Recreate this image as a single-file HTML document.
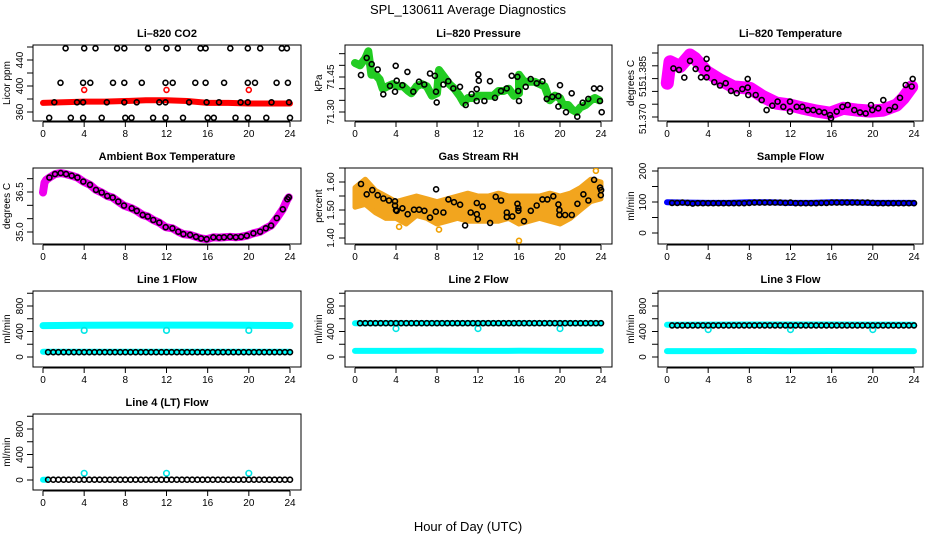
<!DOCTYPE html>
<html><head><meta charset="utf-8">
<style>
html,body{margin:0;padding:0;background:#fff;}
svg{display:block;font-family:"Liberation Sans",Arial,sans-serif;}
</style></head>
<body>
<svg id="chart" width="936" height="540" viewBox="0 0 936 540" xmlns="http://www.w3.org/2000/svg">
<rect x="0" y="0" width="936" height="540" fill="#fff"/>
<text x="468" y="14" text-anchor="middle" font-size="13">SPL_130611  Average Diagnostics</text>
<text x="468" y="531" text-anchor="middle" font-size="13">Hour of Day (UTC)</text>
</svg>
<script>
// ---- X axis ----
const X_TICKS = [0, 4, 8, 12, 16, 20, 24];

// ---- CO2 ----
const CO2_TOP_H = [2.2,4.0,5.1,7.2,7.9,10.2,12.0,13.1,15.3,15.8,18.2,19.9,21.1,23.2,23.7];
const CO2_TOP_V = [458,458,458,458,458,458,458,458,458,458,458,458,458,458,458];
const CO2_MID_H = [1.7,3.9,4.6,6.8,7.9,9.6,11.9,12.6,14.8,15.8,17.6,19.9,20.6,22.7,23.8];
const CO2_MID_V = [405,405,405,405,405,405,405,405,405,405,405,405,405,405,405];
const CO2_LOW_H = [1.1,3.3,3.9,6.2,7.9,9.1,11.3,11.9,14.2,15.9,17.1,19.2,19.9,22.2,23.9];
const CO2_LOW_V = [375,375,375,375,375,375,375,375,375,375,375,375,375,375,375];
const CO2_BOT_H = [0.6,2.7,3.9,5.7,8.0,8.6,10.7,11.9,13.6,16.0,16.6,18.7,19.9,21.7,24.0];
const CO2_BOT_V = [351,351,351,351,351,351,351,351,351,351,351,351,351,351,351];
const CO2_RED_H = [0,2,4,6,8,10,12,14,16,18,20,22,24];
const CO2_RED_V = [374,375,376,376,377,378,378,377,374,374,373,373,373];
const CO2_REDOUT_H = [4,12,20];
const CO2_REDOUT_V = [394,394,394];

// ---- Pressure ----
const P_BLK_H = [1.14,0.59,1.63,2.21,2.76,3.41,4.07,3.97,3.90,4.62,5.11,5.69,6.24,6.76,7.32,7.80,7.90,7.97,8.62,9.10,9.59,10.24,10.80,11.38,11.87,11.87,12.03,12.08,12.62,13.17,13.66,14.24,14.80,15.29,15.84,15.93,16.00,16.65,17.14,17.73,18.28,18.70,19.25,19.84,20.00,19.84,20.59,21.14,21.69,22.21,22.76,23.32,23.90,23.90,24.07];
const P_BLK_V = [71.532,71.458,71.505,71.482,71.376,71.412,71.434,71.498,71.387,71.415,71.472,71.387,71.430,71.418,71.465,71.455,71.387,71.341,71.418,71.432,71.401,71.408,71.330,71.377,71.398,71.347,71.461,71.434,71.347,71.432,71.361,71.390,71.401,71.455,71.451,71.390,71.347,71.408,71.441,71.423,71.432,71.356,71.365,71.368,71.415,71.323,71.299,71.380,71.280,71.340,71.356,71.401,71.401,71.347,71.299];
const P_GRN_H = [0.0,0.5,1.0,1.3,1.6,2.0,2.4,2.7,3.2,3.7,4.2,4.7,5.2,5.5,6.0,6.5,7.0,7.5,8.0,8.2,8.7,9.2,9.7,10.2,10.6,11.0,11.5,12.0,12.5,13.0,13.5,14.0,14.5,15.0,15.5,16.0,16.0,16.5,17.0,17.5,18.0,18.5,19.0,19.5,20.0,20.3,20.8,21.2,21.6,22.0,22.5,23.0,23.4,23.8];
const P_GRN_V = [71.51,71.50,71.53,71.56,71.46,71.46,71.44,71.40,71.41,71.42,71.41,71.41,71.39,71.38,71.41,71.42,71.41,71.37,71.38,71.48,71.45,71.42,71.40,71.37,71.34,71.36,71.36,71.37,71.37,71.37,71.37,71.39,71.39,71.40,71.37,71.38,71.46,71.43,71.43,71.43,71.42,71.41,71.35,71.37,71.36,71.33,71.33,71.31,71.30,71.32,71.33,71.35,71.36,71.35];

// ---- Li-820 Temperature ----
const T_MAG_H = [0.03,0.29,1.26,2.23,2.72,3.86,5.15,6.45,8.07,9.36,10.66,11.95,13.24,14.55,15.84,17.13,18.43,19.73,21.02,22.32,22.96,23.78];
const T_MAG_V = [51.3782,51.3866,51.3847,51.3892,51.3879,51.3827,51.3795,51.3768,51.3762,51.3729,51.3704,51.3697,51.3684,51.3673,51.3665,51.3684,51.3677,51.3673,51.3677,51.3697,51.3723,51.3768];
const T_BLK_H = [0.62,1.17,1.68,2.23,2.78,3.30,3.85,3.92,3.85,4.60,5.15,5.70,6.22,6.77,7.32,7.84,7.84,7.90,8.62,9.20,9.68,10.23,10.75,11.30,11.95,11.95,12.60,13.15,13.67,14.22,14.77,15.29,15.84,15.94,16.49,17.04,17.56,18.20,18.75,19.31,19.82,19.95,20.53,21.02,21.60,22.15,22.64,23.19,23.78,23.87];
const T_BLK_V = [51.3840,51.3834,51.3804,51.3869,51.3838,51.3805,51.3805,51.3840,51.3877,51.3786,51.3773,51.3782,51.3752,51.3743,51.3759,51.3799,51.3765,51.3736,51.3736,51.3716,51.3677,51.3694,51.3710,51.3690,51.3710,51.3671,51.3690,51.3690,51.3677,51.3677,51.3671,51.3668,51.3658,51.3645,51.3671,51.3690,51.3697,51.3677,51.3668,51.3664,51.3697,51.3677,51.3684,51.3716,51.3677,51.3690,51.3725,51.3775,51.3769,51.3799];

// ---- Ambient Box Temperature ----
const A_BLK_H = [0.62,1.17,1.72,2.24,2.79,3.34,3.92,4.57,5.15,5.70,6.25,6.77,7.32,7.87,8.62,9.11,9.69,10.18,10.72,11.30,11.92,12.57,13.15,13.64,14.29,14.87,15.36,15.91,16.55,17.11,17.59,18.18,18.73,19.25,19.80,20.44,21.09,21.65,22.16,22.72,23.30,23.75,23.88];
const A_BLK_V = [37.04,37.17,37.21,37.17,37.11,37.04,36.89,36.77,36.58,36.48,36.35,36.29,36.14,35.99,35.89,35.79,35.64,35.58,35.45,35.35,35.18,35.14,35.01,34.92,34.89,34.82,34.76,34.73,34.80,34.79,34.80,34.82,34.80,34.82,34.86,34.95,35.01,35.14,35.24,35.52,35.85,36.23,36.30];
const A_MAG_H = [0.0,0.15,0.3,0.62,1.17,1.72,2.24,2.79,3.34,3.92,4.57,5.15,5.70,6.25,6.77,7.32,7.87,8.62,9.11,9.69,10.18,10.72,11.30,11.92,12.57,13.15,13.64,14.29,14.87,15.36,15.91,16.55,17.11,17.59,18.18,18.73,19.25,19.80,20.44,21.09,21.65,22.16,22.72,23.30,23.75,23.88];
const A_MAG_V = [36.48,36.85,36.95,37.04,37.17,37.21,37.17,37.11,37.04,36.89,36.77,36.58,36.48,36.35,36.29,36.14,35.99,35.89,35.79,35.64,35.58,35.45,35.35,35.18,35.14,35.01,34.92,34.89,34.82,34.76,34.73,34.80,34.79,34.80,34.82,34.80,34.82,34.86,34.95,35.01,35.14,35.24,35.52,35.85,36.23,36.30];

// ---- Gas Stream RH ----
const RH_BLK_H = [0.59,1.14,1.69,2.21,2.77,3.32,3.90,3.90,4.00,4.07,4.62,5.14,5.76,6.25,6.77,7.32,7.88,7.91,8.62,9.11,9.66,10.25,10.74,11.29,11.88,11.88,11.98,12.46,13.18,13.73,14.25,14.81,14.81,15.35,15.84,15.94,15.94,16.49,17.15,17.73,18.28,18.77,19.35,19.84,19.94,19.94,20.50,21.15,21.70,22.28,22.77,23.33,23.91,24.01,23.98];
const RH_BLK_V = [1.593,1.556,1.571,1.553,1.541,1.534,1.531,1.516,1.500,1.497,1.506,1.485,1.501,1.501,1.497,1.473,1.494,1.574,1.491,1.538,1.528,1.519,1.445,1.491,1.525,1.485,1.467,1.512,1.454,1.547,1.534,1.475,1.491,1.477,1.522,1.497,1.507,1.460,1.497,1.516,1.538,1.538,1.549,1.520,1.500,1.482,1.482,1.482,1.522,1.556,1.534,1.608,1.580,1.571,1.553];
const RH_BAND_H = [0,1,2,3,4,5,6,7,8,9,10,11,12,13,14,15,16,17,18,19,20,21,22,23,24];
const RH_BAND_HI = [1.58,1.61,1.57,1.55,1.53,1.54,1.55,1.54,1.53,1.54,1.55,1.56,1.55,1.55,1.56,1.55,1.55,1.55,1.55,1.56,1.55,1.56,1.58,1.61,1.60];
const RH_BAND_LO = [1.51,1.52,1.49,1.47,1.47,1.45,1.48,1.47,1.45,1.46,1.47,1.46,1.46,1.46,1.46,1.47,1.45,1.46,1.47,1.46,1.45,1.47,1.50,1.53,1.54];
const RH_OUT_H = [16.0,23.5,8.2,4.3];
const RH_OUT_V = [1.39,1.64,1.43,1.44];

// ---- Flow panels ----
const FLOW_H = [0.5,1,1.5,2,2.5,3,3.5,4,4.5,5,5.5,6,6.5,7,7.5,8,8.5,9,9.5,10,10.5,11,11.5,12,12.5,13,13.5,14,14.5,15,15.5,16,16.5,17,17.5,18,18.5,19,19.5,20,20.5,21,21.5,22,22.5,23,23.5,24];
const SAMPLE_BLK = [97,97,98,97,95,96,96,96,96,96,96,96,96,96,96,97,98,98,98,98,98,98,97,98,96,96,96,96,96,97,97,98,98,98,98,98,98,98,98,97,96,96,96,96,96,96,96,96];
const SAMPLE_BAND_H = [0,2,4,6,8,10,12,14,16,18,20,22,24];
const SAMPLE_BAND_V = [99,98,97,97,99,99,97,97,99,99,97,97,97];
const L1_BLK = [75,75,75,75,75,75,75,75,75,75,75,75,75,75,75,75,75,75,75,75,75,75,75,75,75,75,75,75,75,75,75,75,75,75,75,75,75,75,75,75,75,75,75,75,75,75,75,75];
const L2_BLK = [530,530,530,530,530,530,530,530,530,530,530,530,530,530,530,530,530,530,530,530,530,530,530,530,530,530,530,530,530,530,530,530,530,530,530,530,530,530,530,530,530,530,530,530,530,530,530,530];
const L3_BLK = [495,495,495,495,495,495,495,495,495,495,495,495,495,495,495,495,495,495,495,495,495,495,495,495,495,495,495,495,495,495,495,495,495,495,495,495,495,495,495,495,495,495,495,495,495,495,495,495];
const L4_BLK = [5,5,5,5,5,5,5,5,5,5,5,5,5,5,5,5,5,5,5,5,5,5,5,5,5,5,5,5,5,5,5,5,5,5,5,5,5,5,5,5,5,5,5,5,5,5,5,5];
const CY_BAND_H = [0,4,8,12,16,20,24];
const L1_CY_HI = [492,497,500,500,500,498,494];
const L1_CY_LO = [82,82,82,82,82,82,82];
const L2_CY_HI = [530,532,532,532,532,532,530];
const L2_CY_LO = [95,95,97,95,97,95,95];
const L3_CY_HI = [505,508,510,510,510,508,505];
const L3_CY_LO = [92,92,94,92,94,92,92];
const L4_CY_H = [0,0.3];
const L4_CY_V = [5,5];
const OUT_H = [4,12,20];
const L1_OUT = [418,418,418];
const L2_OUT = [445,445,445];
const L3_OUT = [430,430,430];
const L4_OUT = [105,105,105];

const NS = 'http://www.w3.org/2000/svg';
const svg = document.getElementById('chart');
const COLS = [{ax:33,x0:43,x1:290,r:301,tl:23,tt:10},{ax:345,x0:355,x1:601,r:612,tl:334,tt:322},{ax:658,x0:667,x1:914,r:923,tl:646,tt:634}];
const ROWS = [{t:45,b:121},{t:168,b:244},{t:291,b:367},{t:414,b:490}];

function el(tag, parent, attrs){
  const e = document.createElementNS(NS, tag);
  for (const k in attrs) e.setAttribute(k, attrs[k]);
  parent.appendChild(e);
  return e;
}

function makePanel(cfg){
  const c = COLS[cfg.col], r = ROWS[cfg.row];
  const g = el('g', svg, {});
  
  
  const sx = h => c.x0 + h/24*(c.x1-c.x0);
  const sy = v => (r.b - cfg.p0) - (v - cfg.v0)/(cfg.v1 - cfg.v0)*(cfg.p1 - cfg.p0);
  const title = el('text', g, {x:(c.ax+c.r)/2, y:r.t-8, 'text-anchor':'middle', 'font-size':11, 'font-weight':'bold'});
  title.textContent = cfg.title;
  
  
  const frame = el('path', g, {d:`M${c.ax},${r.t}H${c.r}V${r.b}H${c.ax}Z`, fill:'none', stroke:'#000', 'stroke-width':1});
  
  
  // x axis
  const xa = el('g', g, {});
  
  
  el('line', xa, {x1:sx(0), x2:sx(24), y1:r.b+1, y2:r.b+1, stroke:'#000'});
  X_TICKS.forEach(t => {
    el('line', xa, {x1:sx(t), x2:sx(t), y1:r.b+1, y2:r.b+6, stroke:'#000'});
    const tx = el('text', xa, {x:sx(t), y:r.b+16, 'text-anchor':'middle', 'font-size':10});
    tx.textContent = t;
    
    
  });
  // y axis
  const ya = el('g', g, {});
  
  
  const yt0 = sy(cfg.ticks[0]), yt1 = sy(cfg.ticks[cfg.ticks.length-1]);
  el('line', ya, {x1:c.ax, x2:c.ax, y1:yt0, y2:yt1, stroke:'#000'});
  cfg.ticks.forEach(t => el('line', ya, {x1:c.ax-6, x2:c.ax, y1:sy(t), y2:sy(t), stroke:'#000'}));
  cfg.labels.forEach((t,i) => {
    const yy = sy(t);
    const tx = el('text', ya, {x:c.tl, y:yy, 'text-anchor':'middle', 'font-size':10, transform:`rotate(-90 ${c.tl} ${yy})`});
    tx.textContent = cfg.labelText ? cfg.labelText[i] : t;
    
    
  });
  const yl = el('text', g, {x:c.tt, y:(r.t+r.b)/2, 'text-anchor':'middle', 'font-size':10, transform:`rotate(-90 ${c.tt} ${(r.t+r.b)/2})`});
  yl.textContent = cfg.ylab;
  
  
  // clip
  const cp = el('clipPath', g, {id:'clip-' + cfg.name});
  el('rect', cp, {x:c.ax, y:r.t, width:c.r-c.ax, height:r.b-r.t});
  const plot = el('g', g, {'clip-path':`url(#clip-${cfg.name})`});
  
  
  return {g:plot, sx, sy};
}

function band(P, hs, vs, color, w, name){
  const pts = hs.map((h,i) => `${P.sx(h).toFixed(1)},${P.sy(vs[i]).toFixed(1)}`).join(' ');
  const pl = el('polyline', P.g, {points:pts, fill:'none', stroke:color, 'stroke-width':w, 'stroke-linecap':'round', 'stroke-linejoin':'round'});
  
  
}
function pts(P, hs, vs, color, rad, sw, name){
  const gg = el('g', P.g, {});
  
  
  hs.forEach((h,i) => {
    const ci = el('circle', gg, {cx:P.sx(h).toFixed(1), cy:P.sy(vs[i]).toFixed(1), r:rad, fill:'none', stroke:color, 'stroke-width':sw});
    
    
  });
}
function area(P, hs, hi, lo, color, name){
  const up = hs.map((h,i) => `${P.sx(h).toFixed(1)},${P.sy(hi[i]).toFixed(1)}`);
  const dn = hs.map((h,i) => `${P.sx(h).toFixed(1)},${P.sy(lo[i]).toFixed(1)}`).reverse();
  const pg = el('polygon', P.g, {points:up.concat(dn).join(' '), fill:color, stroke:color, 'stroke-width':5, 'stroke-linejoin':'round'});
  
  
}

const FLOW_TICKS = [0,200,400,600,800,1000];
const FLOW_LABELS = [0,400,800];

// CO2
let P = makePanel({name:'co2', title:'Li\u2013820 CO2', col:0, row:0, v0:360, p0:9, v1:440, p1:61, ticks:[360,380,400,420,440,460], labels:[360,400,440], ylab:'Licor ppm'});
band(P, CO2_RED_H, CO2_RED_V, '#ff0000', 6, 'co2-red-series');
pts(P, CO2_REDOUT_H, CO2_REDOUT_V, '#ff0000', 2.5, 1.6, 'co2-red-outliers');
pts(P, CO2_TOP_H, CO2_TOP_V, '#000', 2.5, 1.6, 'co2-black-top');
pts(P, CO2_MID_H, CO2_MID_V, '#000', 2.5, 1.6, 'co2-black-mid');
pts(P, CO2_LOW_H, CO2_LOW_V, '#000', 2.5, 1.6, 'co2-black-low');
pts(P, CO2_BOT_H, CO2_BOT_V, '#000', 2.5, 1.6, 'co2-black-bottom');

// Pressure
P = makePanel({name:'pressure', title:'Li\u2013820 Pressure', col:1, row:0, v0:71.30, p0:9, v1:71.45, p1:44, ticks:[71.30,71.35,71.40,71.45,71.50,71.55], labels:[71.30,71.45], labelText:['71.30','71.45'], ylab:'kPa'});
band(P, P_GRN_H, P_GRN_V, '#22cc22', 8, 'pressure-green-series');
pts(P, P_BLK_H, P_BLK_V, '#000', 2.5, 1.6, 'pressure-black-series');

// Li-820 Temperature
P = makePanel({name:'licor-temp', title:'Li\u2013820 Temperature', col:2, row:0, v0:51.365, p0:4, v1:51.390, p1:68, ticks:[51.365,51.370,51.375,51.380,51.385,51.390], labels:[51.3643,51.375,51.3829], labelText:['51.370','51','51.385'], ylab:'degrees C'});
band(P, T_MAG_H, T_MAG_V, '#ff00ff', 13, 'licor-temp-magenta-series');
pts(P, T_BLK_H, T_BLK_V, '#000', 2.5, 1.6, 'licor-temp-black-series');

// Ambient
P = makePanel({name:'ambient', title:'Ambient Box Temperature', col:0, row:1, v0:35.0, p0:12, v1:36.5, p1:52, ticks:[35.0,35.5,36.0,36.5,37.0], labels:[35.0,36.5], labelText:['35.0','36.5'], ylab:'degrees C'});
band(P, A_MAG_H, A_MAG_V, '#ee00ee', 8, 'ambient-magenta-series');
pts(P, A_BLK_H, A_BLK_V, '#000', 2.5, 1.6, 'ambient-black-series');

// RH
P = makePanel({name:'rh', title:'Gas Stream RH', col:1, row:1, v0:1.40, p0:6, v1:1.60, p1:62, ticks:[1.40,1.45,1.50,1.55,1.60,1.65], labels:[1.40,1.50,1.60], labelText:['1.40','1.50','1.60'], ylab:'percent'});
area(P, RH_BAND_H, RH_BAND_HI, RH_BAND_LO, '#f2a51e', 'rh-orange-series');
pts(P, RH_OUT_H, RH_OUT_V, '#f0a000', 2.5, 1.6, 'rh-orange-outliers');
pts(P, RH_BLK_H, RH_BLK_V, '#000', 2.5, 1.6, 'rh-black-series');

// Sample flow
P = makePanel({name:'sample-flow', title:'Sample Flow', col:2, row:1, v0:0, p0:11, v1:200, p1:73, ticks:[0,50,100,150,200], labels:[0,100,200], ylab:'ml/min'});
band(P, SAMPLE_BAND_H, SAMPLE_BAND_V, '#0000ff', 6, 'sample-flow-blue-series');
pts(P, FLOW_H, SAMPLE_BLK, '#000', 2.5, 1.6, 'sample-flow-black-series');

// Line 1
P = makePanel({name:'line1-flow', title:'Line 1 Flow', col:0, row:2, v0:0, p0:10, v1:800, p1:61, ticks:FLOW_TICKS, labels:FLOW_LABELS, ylab:'ml/min'});
band(P, CY_BAND_H, L1_CY_HI, '#00ffff', 7, 'line1-cyan-high');
band(P, CY_BAND_H, L1_CY_LO, '#00ffff', 6, 'line1-cyan-low');
pts(P, OUT_H, L1_OUT, '#00e5e5', 2.8, 1.6, 'line1-cyan-outliers');
pts(P, FLOW_H, L1_BLK, '#000', 2.5, 1.6, 'line1-black-series');

// Line 2
P = makePanel({name:'line2-flow', title:'Line 2 Flow', col:1, row:2, v0:0, p0:10, v1:800, p1:61, ticks:FLOW_TICKS, labels:FLOW_LABELS, ylab:'ml/min'});
band(P, CY_BAND_H, L2_CY_HI, '#00ffff', 6, 'line2-cyan-high');
band(P, CY_BAND_H, L2_CY_LO, '#00ffff', 6, 'line2-cyan-low');
pts(P, OUT_H, L2_OUT, '#00e5e5', 2.8, 1.6, 'line2-cyan-outliers');
pts(P, FLOW_H, L2_BLK, '#000', 2.5, 1.6, 'line2-black-series');

// Line 3
P = makePanel({name:'line3-flow', title:'Line 3 Flow', col:2, row:2, v0:0, p0:10, v1:800, p1:61, ticks:FLOW_TICKS, labels:FLOW_LABELS, ylab:'ml/min'});
band(P, CY_BAND_H, L3_CY_HI, '#00ffff', 6, 'line3-cyan-high');
band(P, CY_BAND_H, L3_CY_LO, '#00ffff', 6, 'line3-cyan-low');
pts(P, OUT_H, L3_OUT, '#00e5e5', 2.8, 1.6, 'line3-cyan-outliers');
pts(P, FLOW_H, L3_BLK, '#000', 2.5, 1.6, 'line3-black-series');

// Line 4
P = makePanel({name:'line4-flow', title:'Line 4 (LT) Flow', col:0, row:3, v0:0, p0:10, v1:800, p1:61, ticks:FLOW_TICKS, labels:FLOW_LABELS, ylab:'ml/min'});
band(P, L4_CY_H, L4_CY_V, '#00ffff', 6, 'line4-cyan-series');
pts(P, OUT_H, L4_OUT, '#00e5e5', 2.8, 1.6, 'line4-cyan-outliers');
pts(P, FLOW_H, L4_BLK, '#000', 2.5, 1.6, 'line4-black-series');
</script>
</body></html>
